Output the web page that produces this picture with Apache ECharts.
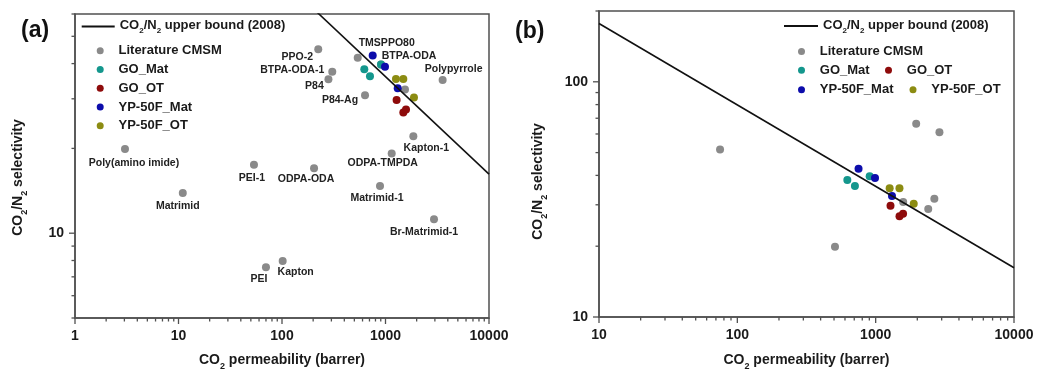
<!DOCTYPE html>
<html><head><meta charset="utf-8">
<script src="https://cdn.jsdelivr.net/npm/echarts@6/dist/echarts.min.js"></script>
<style>html,body{margin:0;padding:0;background:#fff}#c{width:1037px;height:371px}</style>
</head><body><div id="c"></div>
<script>
// ---------- DATA ----------
// CO2/N2 upper bound (2008): end points
const boundPerm = [10, 10000];
const boundSel = [177, 16.2];

// Panel (a): literature precursors (gray)
const litANames = ['Poly(amino imide)', 'Matrimid', 'PEI-1', 'ODPA-ODA', 'PEI', 'Kapton', 'PPO-2', 'BTPA-ODA-1', 'P84', 'P84-Ag', 'TMSPPO80', 'BTPA-ODA', '', 'Polypyrrole', 'Kapton-1', 'ODPA-TMPDA', 'Matrimid-1', 'Br-Matrimid-1'];
const litAPerm = [3.04, 11.0, 53.6, 204, 70, 101.5, 224, 306, 281, 634, 539, 905, 1543, 3565, 1858, 1148, 885, 2942];
const litASel = [19.9, 13.9, 17.5, 17.0, 7.57, 7.96, 45, 37.4, 35.2, 30.9, 42, 39.7, 32.4, 35, 22.1, 19.2, 14.7, 11.2];

// Panel (b): literature CMSM (gray)
const litBPerm = [75, 1963, 2891, 1581, 2399, 2656, 508];
const litBSel = [51.5, 66.3, 61.0, 30.8, 28.8, 31.8, 19.9];

// This work (both panels)
const goMatPerm = [624, 708, 905];   const goMatSel = [38.2, 36.1, 39.7];
const goOtPerm = [1280, 1487, 1578]; const goOtSel = [29.7, 26.8, 27.5];
const ypMatPerm = [752, 989, 1312];  const ypMatSel = [42.7, 39.0, 32.7];
const ypOtPerm = [1262, 1486, 1884]; const ypOtSel = [35.3, 35.3, 30.3];

// Axis ranges
const xRangeA = [1, 10000], yRangeA = [5, 60];
const xRangeB = [10, 10000], yRangeB = [10, 200];

// ---------- STYLE (label placement offsets, px) ----------
const litALabelOffset = [[9,14],[-5,13],[-2,13],[-8,11],[-7,12],[13,11],[-21,8],[-40,-2],[-14,7],[-25,5],[29,-15],[28,-8],[0,0],[11,-11],[13,12],[-9,10],[-3,12],[-10,13]];

const FONT = '"Liberation Sans", Arial, sans-serif';
const AX = '#505050';
const TXT = '#1a1a1a';
const C = { lit: '#8a8a8a', goMat: '#14978d', goOt: '#8e0b0b', ypMat: '#0c0cab', ypOt: '#8c8c12' };
const BOUND = 'CO2/N2 upper bound (2008)';

const pairs = (a, b) => a.map((v, i) => [v, b[i]]);
const richName = {
  n: { fontSize: 14, fontWeight: 'bold', fontFamily: FONT, color: TXT, lineHeight: 16, verticalAlign: 'top' },
  s: { fontSize: 9, fontWeight: 'bold', fontFamily: FONT, color: TXT, lineHeight: 9, padding: [9, 0, 0, 0], verticalAlign: 'top' }
};
const richLeg = {
  n: { fontSize: 13, fontWeight: 'bold', fontFamily: FONT, color: TXT, lineHeight: 15, verticalAlign: 'top' },
  s: { fontSize: 8, fontWeight: 'bold', fontFamily: FONT, color: TXT, lineHeight: 8, padding: [8, 0, 0, 0], verticalAlign: 'top' }
};
const isPow10 = v => Math.abs(Math.log10(v) - Math.round(Math.log10(v))) < 1e-6;

function xAxis(grid, range, gap) {
  return {
    type: 'log', logBase: 10, gridIndex: grid, min: range[0], max: range[1],
    name: '{n|CO}{s|2}{n| permeability (barrer)}', nameLocation: 'middle', nameGap: gap,
    nameTextStyle: { rich: richName },
    axisLine: { show: true, lineStyle: { color: AX, width: 1.5 } },
    axisTick: { show: false }, minorTick: { show: false }, splitLine: { show: false },
    axisLabel: { margin: 11, fontSize: 14, fontWeight: 'bold', fontFamily: FONT, color: TXT,
      formatter: v => isPow10(v) ? String(Math.round(v)) : '' }
  };
}
function yAxis(grid, range, gap, shift) {
  return {
    type: 'log', logBase: 10, gridIndex: grid, min: range[0], max: range[1],
    name: '{n|CO}{s|2}{n|/N}{s|2}{n| selectivity}', nameLocation: 'middle', nameGap: gap,
    nameTextStyle: { rich: richName, padding: [0, shift, 0, 0] },
    axisLine: { show: true, lineStyle: { color: AX, width: 1.5 } },
    axisTick: { show: false }, minorTick: { show: false }, splitLine: { show: false },
    axisLabel: { margin: 11, fontSize: 14, fontWeight: 'bold', fontFamily: FONT, color: TXT,
      formatter: v => isPow10(v) ? String(Math.round(v)) : '' }
  };
}
function scatter(name, color, xi, data, extra) {
  return Object.assign({ type: 'scatter', name, xAxisIndex: xi, yAxisIndex: xi, data,
    symbol: 'circle', symbolSize: 8, itemStyle: { color, opacity: 1 }, emphasis: { disabled: true } }, extra || {});
}

const litAData = litAPerm.map((p, i) => ({
  name: litANames[i], value: [p, litASel[i]],
  label: { show: litANames[i] !== '', offset: litALabelOffset[i] }
}));

const legText = { fontSize: 13, fontWeight: 'bold', fontFamily: FONT, color: TXT, lineHeight: 14 };
const boundFmt = () => '{n|CO}{s|2}{n|/N}{s|2}{n| upper bound (2008)}';
function legOne(name, left, top) {
  return { data: [name], left, top, padding: 0, itemWidth: 26.6, itemHeight: 7, itemGap: 4.75,
    orient: 'horizontal', textStyle: legText, selectedMode: false };
}
function legBound(left, top, w) {
  return { data: [BOUND], left, top, padding: 0, icon: 'rect', itemWidth: w, itemHeight: 1.8, formatter: boundFmt,
    textStyle: Object.assign({}, legText, { rich: richLeg }), selectedMode: false };
}

const option = {
  animation: false,
  backgroundColor: '#fff',
  title: [
    { text: '(a)', left: 21, top: 19, padding: 0, textStyle: { fontSize: 23, fontWeight: 'bold', fontFamily: FONT, color: '#111' } },
    { text: '(b)', left: 515, top: 20, padding: 0, textStyle: { fontSize: 23, fontWeight: 'bold', fontFamily: FONT, color: '#111' } }
  ],
  grid: [
    { left: 75, top: 14, width: 414, height: 304, show: true, borderColor: AX, borderWidth: 1.5, backgroundColor: 'transparent', outerBoundsMode: 'none', containLabel: false },
    { left: 599, top: 11, width: 415, height: 306, show: true, borderColor: AX, borderWidth: 1.5, backgroundColor: 'transparent', outerBoundsMode: 'none', containLabel: false }
  ],
  xAxis: [xAxis(0, xRangeA, 35), xAxis(1, xRangeB, 36)],
  yAxis: [yAxis(0, yRangeA, 48, 23), yAxis(1, yRangeB, 52, 35)],
  legend: [
    legBound(81.7, 19, 33),
    { data: ['Literature CMSM', 'GO_Mat', 'GO_OT', 'YP-50F_Mat', 'YP-50F_OT'], orient: 'vertical', left: 96.7, top: 43.7,
      padding: 0, itemWidth: 26.6, itemHeight: 7, itemGap: 4.75, textStyle: legText, selectedMode: false },
    legBound(784, 18.5, 34),
    legOne('Literature CMSM', 798, 44.4),
    legOne('GO_Mat', 798, 63.2),
    legOne('GO_OT', 885, 63.2),
    legOne('YP-50F_Mat', 798, 82.7),
    legOne('YP-50F_OT', 909.5, 82.7)
  ],
  series: [
    { type: 'line', name: BOUND, xAxisIndex: 0, yAxisIndex: 0, data: pairs(boundPerm, boundSel), symbol: 'none', clip: true,
      lineStyle: { color: '#111', width: 1.6 }, itemStyle: { color: '#111' }, silent: true },
    { type: 'line', name: BOUND, xAxisIndex: 1, yAxisIndex: 1, data: pairs(boundPerm, boundSel), symbol: 'none', clip: true,
      lineStyle: { color: '#111', width: 1.6 }, itemStyle: { color: '#111' }, silent: true },
    scatter('Literature CMSM', C.lit, 0, litAData, {
      label: { show: true, position: 'inside', formatter: '{b}', fontSize: 10.5, fontWeight: 'bold', fontFamily: FONT, color: '#222' } }),
    scatter('GO_Mat', C.goMat, 0, pairs(goMatPerm, goMatSel)),
    scatter('GO_OT', C.goOt, 0, pairs(goOtPerm, goOtSel)),
    scatter('YP-50F_Mat', C.ypMat, 0, pairs(ypMatPerm, ypMatSel)),
    scatter('YP-50F_OT', C.ypOt, 0, pairs(ypOtPerm, ypOtSel)),
    scatter('Literature CMSM', C.lit, 1, pairs(litBPerm, litBSel)),
    scatter('GO_Mat', C.goMat, 1, pairs(goMatPerm, goMatSel)),
    scatter('GO_OT', C.goOt, 1, pairs(goOtPerm, goOtSel)),
    scatter('YP-50F_Mat', C.ypMat, 1, pairs(ypMatPerm, ypMatSel)),
    scatter('YP-50F_OT', C.ypOt, 1, pairs(ypOtPerm, ypOtSel))
  ]
};

const chart = echarts.init(document.getElementById('c'), null, { renderer: 'canvas', devicePixelRatio: 1 });
chart.setOption(option);

// Log-style ticks (decades long, 2..9 short), positioned through the axes' own scales
function logTickValues(r) {
  const out = [];
  for (let e = Math.floor(Math.log10(r[0])); e <= Math.ceil(Math.log10(r[1])); e++) {
    for (let m = 1; m <= 9; m++) {
      const v = m * Math.pow(10, e);
      if (v >= r[0] * 0.9999 && v <= r[1] * 1.0001) out.push({ v, major: m === 1 });
    }
  }
  return out;
}
const gfx = [];
[[0, xRangeA, yRangeA], [1, xRangeB, yRangeB]].forEach(([i, xr, yr]) => {
  const yBottom = chart.convertToPixel({ yAxisIndex: i }, yr[0]);
  const xLeft = chart.convertToPixel({ xAxisIndex: i }, xr[0]);
  logTickValues(xr).forEach(t => {
    const x = chart.convertToPixel({ xAxisIndex: i }, t.v);
    const len = t.major ? 6 : 3.5;
    gfx.push({ type: 'line', silent: true, shape: { x1: x, y1: yBottom, x2: x, y2: yBottom + len }, style: { stroke: AX, lineWidth: 1.3 } });
  });
  logTickValues(yr).forEach(t => {
    const y = chart.convertToPixel({ yAxisIndex: i }, t.v);
    const len = t.major ? 6 : 3.5;
    gfx.push({ type: 'line', silent: true, shape: { x1: xLeft - len, y1: y, x2: xLeft, y2: y }, style: { stroke: AX, lineWidth: 1.3 } });
  });
});
chart.setOption({ graphic: gfx });
</script></body></html>
